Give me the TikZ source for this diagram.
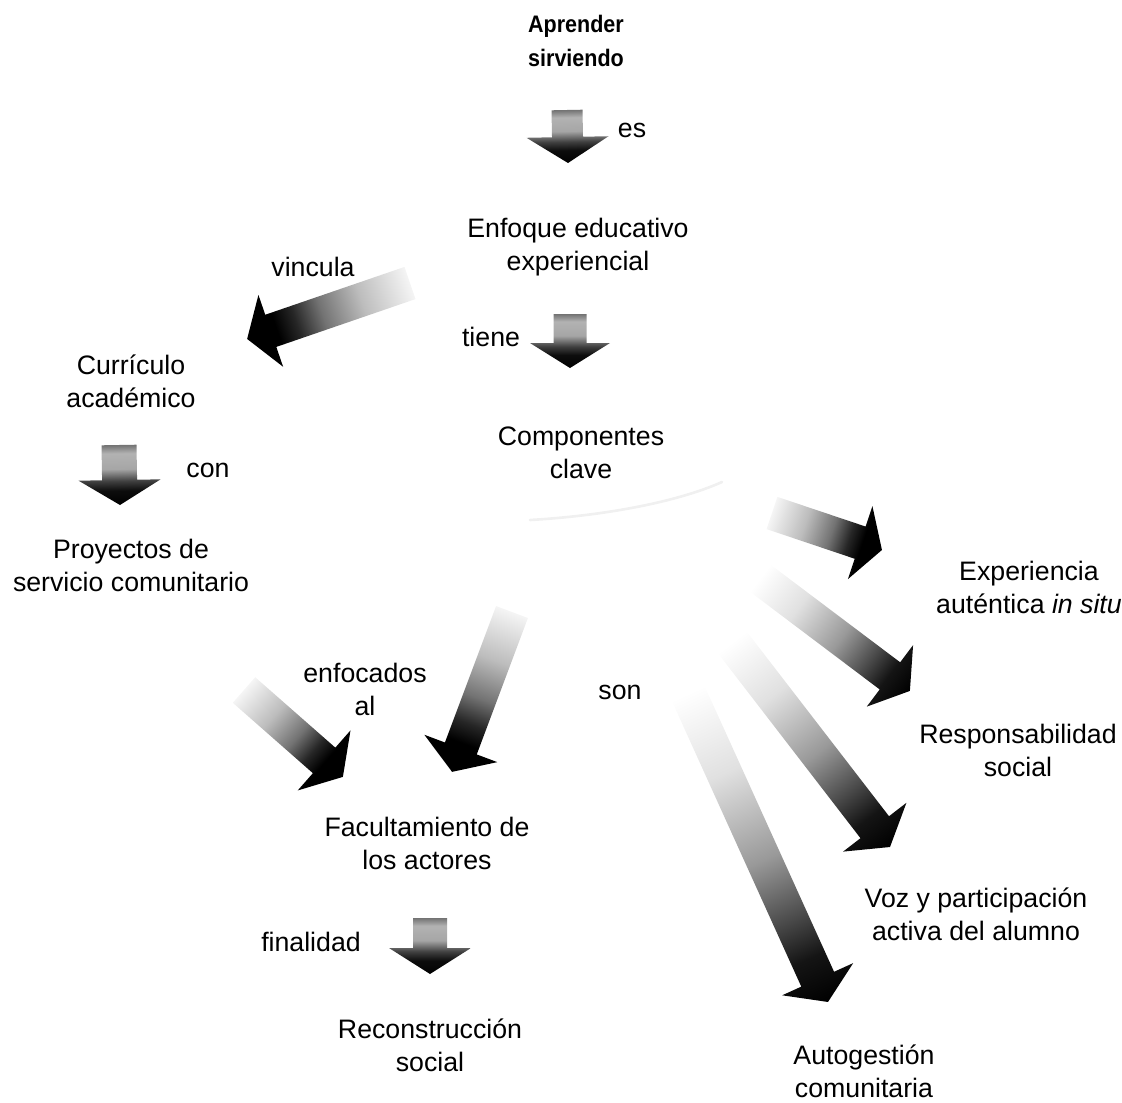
\documentclass[tikz,border=0pt]{standalone}
\usepackage{fontspec}
\setmainfont{Liberation Sans}
\newfontfamily\titlefont[FakeStretch=0.9]{Liberation Sans}
\usetikzlibrary{calc}

% gradient fills for the block arrows: pale tail, black head
\pgfdeclarehorizontalshading{fadelong}{100bp}{color(0bp)=(white); color(25bp)=(white); color(38bp)=(black!12); color(52bp)=(black!40); color(62bp)=(black!72); color(68bp)=(black!92); color(75bp)=(black); color(100bp)=(black)}
\pgfdeclarehorizontalshading{fademid}{100bp}{color(0bp)=(white); color(25bp)=(black!4); color(40bp)=(black!26); color(52bp)=(black!55); color(60bp)=(black!85); color(66bp)=(black); color(100bp)=(black)}
\pgfdeclarehorizontalshading{fadeshort}{100bp}{color(0bp)=(black!55); color(25bp)=(black!55); color(32bp)=(black!30); color(45bp)=(black!35); color(55bp)=(black!75); color(63bp)=(black!95); color(75bp)=(black); color(100bp)=(black)}

\newdimen\arTx \newdimen\arTy \newdimen\arHx \newdimen\arHy
\def\pxu{0.569055pt}
% #1 tail, #2 tip, #3 shaft half width, #4 head half width, #5 head length (px), #6 shading
\newcommand{\shadedarrow}[6]{%
  \pgfextractx{\arTx}{\pgfpointanchor{#1}{center}}%
  \pgfextracty{\arTy}{\pgfpointanchor{#1}{center}}%
  \pgfextractx{\arHx}{\pgfpointanchor{#2}{center}}%
  \pgfextracty{\arHy}{\pgfpointanchor{#2}{center}}%
  \pgfmathsetmacro\arAng{atan2(\arHy-\arTy,\arHx-\arTx)}%
  \pgfmathsetmacro\arLen{veclen(\arHx-\arTx,\arHy-\arTy)}%
  \begin{scope}[transform canvas={shift={(\the\arTx,\the\arTy)},rotate=\arAng}]
    \shade[shading=#6]
      (0pt,{#3*\pxu}) -- ({\arLen pt-#5*\pxu},{#3*\pxu})
      -- ({\arLen pt-#5*\pxu},{#4*\pxu}) -- ({\arLen pt},0pt)
      -- ({\arLen pt-#5*\pxu},{-#4*\pxu}) -- ({\arLen pt-#5*\pxu},{-#3*\pxu})
      -- (0pt,{-#3*\pxu}) -- cycle;
  \end{scope}}

\tikzset{
  concept/.style={align=center, inner sep=0pt, font=\fontsize{15.2pt}{18.8pt}\selectfont},
  title/.style={align=center, inner sep=0pt, font=\titlefont\fontsize{13.6pt}{19.3pt}\selectfont\bfseries},
  linkword/.style={align=center, inner sep=0pt, font=\fontsize{15.2pt}{18.8pt}\selectfont},
}

\begin{document}
\begin{tikzpicture}[x=0.02cm, y=-0.02cm]
\useasboundingbox (0,0) rectangle (1122,1102);

% concepts
\node[title]   (apr)  at (576,41)   {Aprender\\sirviendo};
\node[concept] (enf)  at (578,247)  {Enfoque educativo\\experiencial};
\node[concept] (cur)  at (131,381)  {Currículo\\académico};
\node[concept] (comp) at (581,453)  {Componentes\\clave};
\node[concept] (proy) at (131,565)  {Proyectos de\\servicio comunitario};
\node[concept] (exp)  at (1029,587) {Experiencia\\auténtica \textit{in situ}};
\node[concept] (resp) at (1018,750) {Responsabilidad\\social};
\node[concept] (fac)  at (427,843)  {Facultamiento de\\los actores};
\node[concept] (voz)  at (976,914)  {Voz y participación\\activa del alumno};
\node[concept] (rec)  at (430,1045) {Reconstrucción\\social};
\node[concept] (aut)  at (864,1071) {Autogestión\\comunitaria};

% linking words
\node[linkword] (les)  at (632,130) {es};
\node[linkword] (lvin) at (313,267) {vincula};
\node[linkword] (ltie) at (491,337) {tiene};
\node[linkword] (lcon) at (208,470) {con};
\node[linkword] (lenf) at (365,689) {enfocados\\al};
\node[linkword] (lson) at (620,692) {son};
\node[linkword] (lfin) at (311,942) {finalidad};

% arrow tails and tips
\coordinate (esT)  at (567,110);  \coordinate (esH)  at (568,163);
\coordinate (tiT)  at (570,314);  \coordinate (tiH)  at (570,368);
\coordinate (vinT) at (410,283);  \coordinate (vinH) at (247,339);
\coordinate (conT) at (119,445);  \coordinate (conH) at (120,505);
\coordinate (expT) at (772,513);  \coordinate (expH) at (882,550);
\coordinate (resT) at (760,578);  \coordinate (resH) at (910,691);
\coordinate (vozT) at (732,642);  \coordinate (vozH) at (890,847);
\coordinate (autT) at (688,693);  \coordinate (autH) at (828,1002);
\coordinate (enlT) at (244,690);  \coordinate (enlH) at (343,777);
\coordinate (enrT) at (512,612);  \coordinate (enrH) at (452,772);
\coordinate (finT) at (430,918);  \coordinate (finH) at (430,974);

\shadedarrow{esT}{esH}{15.5}{41}{26}{fadeshort}
\shadedarrow{tiT}{tiH}{16.5}{40}{25}{fadeshort}
\shadedarrow{conT}{conH}{17.5}{41}{25}{fadeshort}
\shadedarrow{finT}{finH}{17}{41}{26}{fadeshort}
\shadedarrow{vinT}{vinH}{17}{38}{25}{fademid}
\shadedarrow{expT}{expH}{17}{38.5}{23}{fademid}
\shadedarrow{resT}{resH}{17}{38.5}{25}{fadelong}
\shadedarrow{vozT}{vozH}{18}{40}{25}{fadelong}
\shadedarrow{autT}{autH}{18}{39}{25}{fadelong}
\shadedarrow{enlT}{enlH}{17}{40}{25}{fademid}
\shadedarrow{enrT}{enrH}{17}{39}{25}{fademid}

% faint stroke under the central concept
\coordinate (arcA) at (530,520);
\coordinate (arcB) at (722,482);
\draw[black!6, line width=1.5pt, line cap=round] (arcA) .. controls (600,516) and (675,503) .. (arcB);
\end{tikzpicture}
\end{document}
